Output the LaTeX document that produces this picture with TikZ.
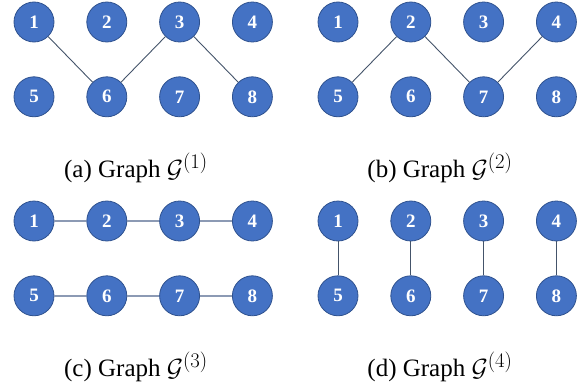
\documentclass[tikz,border=0pt]{standalone}
\usepackage{fontspec}
\setmainfont{Liberation Serif}
\usepackage{xcolor}
\usepackage{tikz}
\usetikzlibrary{positioning}

\definecolor{nodeblue}{HTML}{4472C4}
\definecolor{nodeline}{HTML}{2F528F}
\definecolor{edgedark}{HTML}{44546A}
\definecolor{edgelight}{HTML}{8C9AB4}

\DeclareMathSizes{25}{25}{21}{15}

\begin{document}
\begin{tikzpicture}[
    x=1pt, y=1pt,
    node distance=34pt and 32pt,
    vtx/.style={circle, draw=nodeline, line width=0.8pt, fill=nodeblue, minimum size=40pt, inner sep=0pt, text=white, font=\fontsize{19}{19}\selectfont\bfseries},
    edge/.style={edgedark, line width=0.9pt},
    edge2/.style={edgelight, line width=1.8pt},
    captext/.style={font=\fontsize{25}{25}\selectfont},
]
\useasboundingbox (0,0) rectangle (584,384);
% graph (a)
\node[vtx] (a1) at (34,362) {1};
\node[vtx, right=of a1] (a2) {2};
\node[vtx, right=of a2] (a3) {3};
\node[vtx, right=of a3] (a4) {4};
\node[vtx, below=of a1] (a5) {5};
\node[vtx, below=of a2] (a6) {6};
\node[vtx, below=of a3] (a7) {7};
\node[vtx, below=of a4] (a8) {8};
\draw[edge] (a1) -- (a6);
\draw[edge] (a3) -- (a6);
\draw[edge] (a3) -- (a8);
\node[captext] (capa) at (136,216) {(a) Graph $\mathcal{G}^{(1)}$};
% graph (b)
\node[vtx] (b1) at (338,362) {1};
\node[vtx, right=of b1] (b2) {2};
\node[vtx, right=of b2] (b3) {3};
\node[vtx, right=of b3] (b4) {4};
\node[vtx, below=of b1] (b5) {5};
\node[vtx, below=of b2] (b6) {6};
\node[vtx, below=of b3] (b7) {7};
\node[vtx, below=of b4] (b8) {8};
\draw[edge] (b2) -- (b5);
\draw[edge] (b2) -- (b7);
\draw[edge] (b4) -- (b7);
\node[captext] (capb) at (440,216) {(b) Graph $\mathcal{G}^{(2)}$};
% graph (c)
\node[vtx] (c1) at (34,163) {1};
\node[vtx, right=of c1] (c2) {2};
\node[vtx, right=of c2] (c3) {3};
\node[vtx, right=of c3] (c4) {4};
\node[vtx, below=of c1] (c5) {5};
\node[vtx, below=of c2] (c6) {6};
\node[vtx, below=of c3] (c7) {7};
\node[vtx, below=of c4] (c8) {8};
\draw[edge2] (c1) -- (c2);
\draw[edge2] (c2) -- (c3);
\draw[edge2] (c3) -- (c4);
\draw[edge2] (c5) -- (c6);
\draw[edge2] (c6) -- (c7);
\draw[edge2] (c7) -- (c8);
\node[captext] (capc) at (136,17) {(c) Graph $\mathcal{G}^{(3)}$};
% graph (d)
\node[vtx] (d1) at (338,163) {1};
\node[vtx, right=of d1] (d2) {2};
\node[vtx, right=of d2] (d3) {3};
\node[vtx, right=of d3] (d4) {4};
\node[vtx, below=of d1] (d5) {5};
\node[vtx, below=of d2] (d6) {6};
\node[vtx, below=of d3] (d7) {7};
\node[vtx, below=of d4] (d8) {8};
\draw[edge] (d1) -- (d5);
\draw[edge] (d2) -- (d6);
\draw[edge] (d3) -- (d7);
\draw[edge] (d4) -- (d8);
\node[captext] (capd) at (440,17) {(d) Graph $\mathcal{G}^{(4)}$};
\end{tikzpicture}
\end{document}
